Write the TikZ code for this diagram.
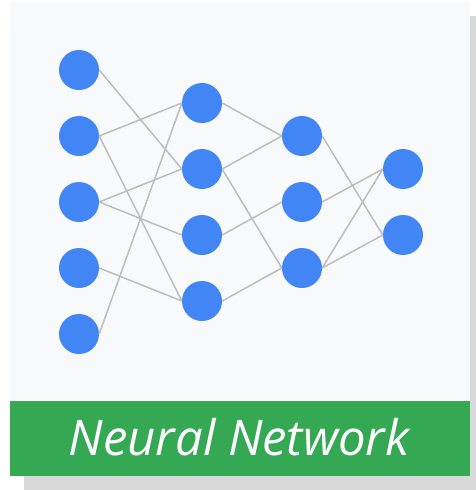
\documentclass[tikz,border=0pt]{standalone}
\usepackage{fontspec}
\setmainfont{Open Sans}
\usepackage{tikz}

\definecolor{cardbg}{HTML}{F8F9FA}
\definecolor{cardshadow}{HTML}{D9D9D9}
\definecolor{bannergreen}{HTML}{34A853}
\definecolor{neuronblue}{HTML}{4285F4}
\definecolor{synapsegray}{HTML}{BDBDBD}

\begin{document}
\begin{tikzpicture}[x=1pt, y=-1pt,
    neuron/.style={circle, fill=neuronblue, minimum size=40pt, inner sep=0pt},
    synapse/.style={draw=synapsegray, line width=1.5pt}]
            \useasboundingbox (0,0) rectangle (476,490);
            % card, shadow and banner
            \fill[cardshadow] (24,16) rectangle (476,490);
            \fill[cardbg] (10,2) rectangle (470,401);
            \fill[bannergreen] (10,401) rectangle (470,476);
            \node[text=white, font=\fontsize{49}{54}\selectfont\itshape] (title) at (239,437) {Neural Network};
            % neurons
            \node[neuron] (a1) at (79,70) {};
            \node[neuron] (a2) at (79,136) {};
            \node[neuron] (a3) at (79,202) {};
            \node[neuron] (a4) at (79,268) {};
            \node[neuron] (a5) at (79,334) {};
            \node[neuron] (b1) at (202,103) {};
            \node[neuron] (b2) at (202,169) {};
            \node[neuron] (b3) at (202,235) {};
            \node[neuron] (b4) at (202,301) {};
            \node[neuron] (c1) at (302,136) {};
            \node[neuron] (c2) at (302,202) {};
            \node[neuron] (c3) at (302,268) {};
            \node[neuron] (d1) at (403,169) {};
            \node[neuron] (d2) at (403,235) {};
            % synapses
            \draw[synapse] (a1.east) -- (b2.west);
            \draw[synapse] (a2.east) -- (b1.west);
            \draw[synapse] (a2.east) -- (b4.west);
            \draw[synapse] (a3.east) -- (b2.west);
            \draw[synapse] (a3.east) -- (b3.west);
            \draw[synapse] (a4.east) -- (b4.west);
            \draw[synapse] (a5.east) -- (b1.west);
            \draw[synapse] (b1.east) -- (c1.west);
            \draw[synapse] (b2.east) -- (c1.west);
            \draw[synapse] (b2.east) -- (c3.west);
            \draw[synapse] (b3.east) -- (c2.west);
            \draw[synapse] (b4.east) -- (c3.west);
            \draw[synapse] (c1.east) -- (d2.west);
            \draw[synapse] (c2.east) -- (d1.west);
            \draw[synapse] (c3.east) -- (d1.west);
            \draw[synapse] (c3.east) -- (d2.west);
        \end{tikzpicture}
\end{document}
